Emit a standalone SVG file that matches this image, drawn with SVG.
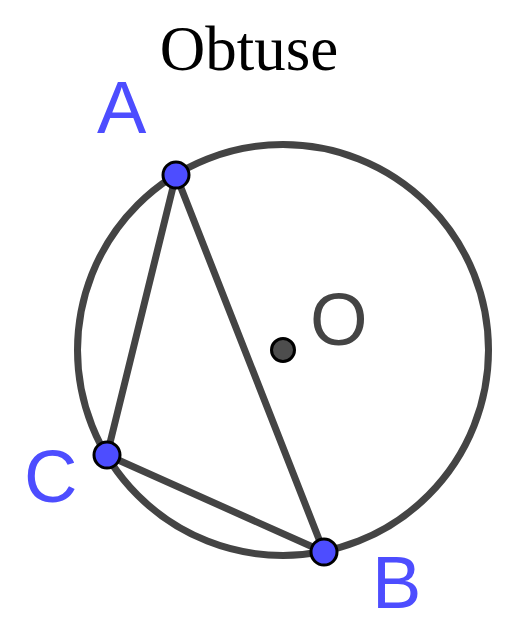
<svg xmlns="http://www.w3.org/2000/svg" width="527" height="619" viewBox="0 0 527 619">
<style>
.edge{stroke:#444;stroke-width:7;fill:none;stroke-linecap:round}
.pt{fill:#4d4dff;stroke:#000;stroke-width:3}
.lbl{font-family:"Liberation Sans",Arial,sans-serif;font-size:74px;fill:#4d4dff}
</style>
<rect width="527" height="619" fill="#fff"/>
<text x="249" y="70" text-anchor="middle" font-family="Liberation Serif,'Times New Roman',serif" font-size="63" fill="#000">Obtuse</text>
<g id="connectors">
<circle class="edge" cx="283" cy="350" r="205.5"/>
<line class="edge" x1="176" y1="175" x2="107" y2="455"/>
<line class="edge" x1="176" y1="175" x2="324" y2="552"/>
<line class="edge" x1="107" y1="455" x2="324" y2="552"/>
</g>
<g id="O">
<circle cx="283" cy="350" r="11.5" fill="#4d4d4d" stroke="#000" stroke-width="3"/>
<text x="310" y="345" font-family="Liberation Sans,Arial,sans-serif" font-size="74" fill="#444">O</text>
</g>
<g id="A">
<circle class="pt" cx="176" cy="175" r="13"/>
<text class="lbl" x="97" y="133">A</text>
</g>
<g id="C">
<circle class="pt" cx="107" cy="455" r="13"/>
<text class="lbl" x="24" y="502">C</text>
</g>
<g id="B">
<circle class="pt" cx="324" cy="552" r="13"/>
<text class="lbl" x="372" y="608">B</text>
</g>
</svg>
